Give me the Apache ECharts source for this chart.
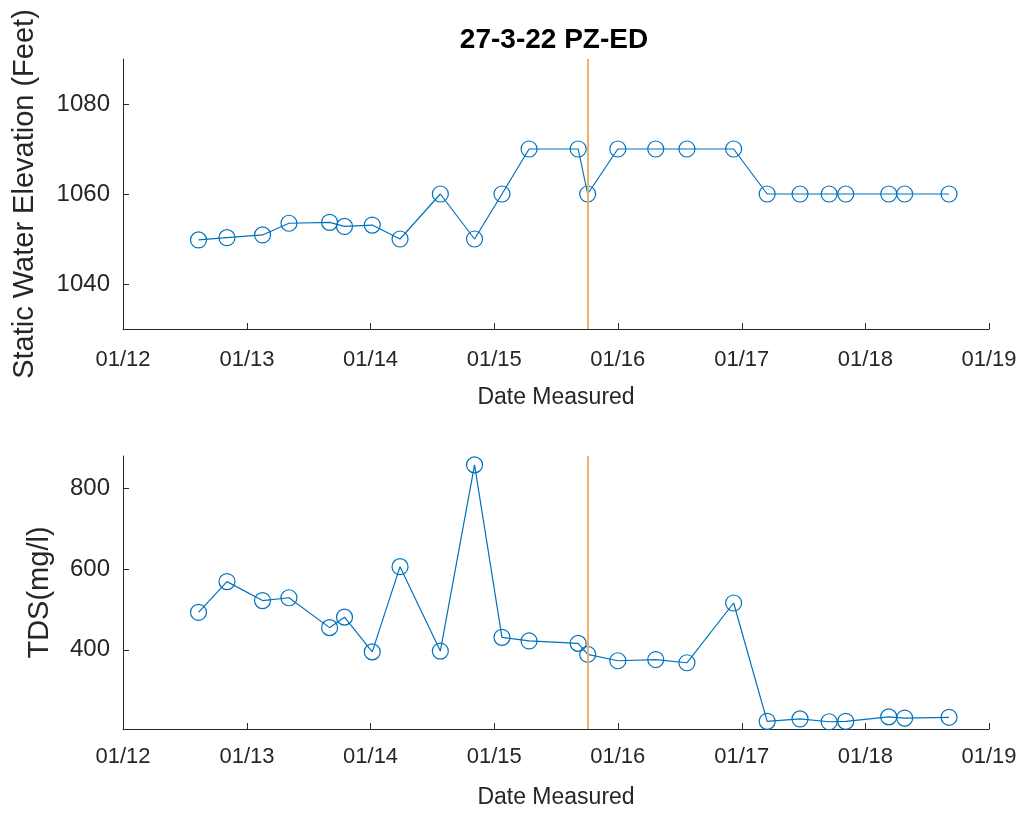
<!DOCTYPE html>
<html>
<head>
<meta charset="utf-8">
<script src="https://cdn.jsdelivr.net/npm/echarts@6/dist/echarts.min.js"></script>
<style>
  html, body { margin: 0; padding: 0; background: #fff; }
  #chart { width: 1027px; height: 813px; }
</style>
</head>
<body>
<div id="chart"></div>
<script>
// measurement dates (shared by both panels)
const dates = [
  '2012-08-11', '2012-11-03', '2013-02-16', '2013-05-05', '2013-09-02',
  '2013-10-16', '2014-01-06', '2014-03-29', '2014-07-26', '2014-11-04',
  '2015-01-24', '2015-04-14', '2015-09-06', '2015-10-04', '2016-01-01',
  '2016-04-22', '2016-07-23', '2016-12-08', '2017-03-17', '2017-06-22',
  '2017-09-16', '2017-11-04', '2018-03-11', '2018-04-27', '2018-09-05'
]
const elevation = [
  1049.8, 1050.3, 1050.9, 1053.5, 1053.7, 1052.8, 1053.1, 1050, 1060, 1050,
  1060, 1070, 1070, 1060, 1070, 1070, 1070, 1070, 1060, 1060,
  1060, 1060, 1060, 1060, 1060
]
const tds = [
  493, 569, 522, 529, 455, 481, 395, 606, 397, 858,
  431, 422, 416, 389, 373, 376, 368, 516, 223, 229,
  222, 223, 234, 231, 233
]
const markerDate = '2015-10-05'
const xTicks = ['2012-01-01', '2013-01-01', '2014-01-01', '2015-01-01',
  '2016-01-01', '2017-01-01', '2018-01-01', '2019-01-01']
const elevTicks = [1040, 1060, 1080]
const tdsTicks = [400, 600, 800]

const ts = s => new Date(s + 'T00:00:00Z').getTime()
const xTickVals = xTicks.map(ts)
const axisColor = '#262626'
const textColor = '#262626'
const font = 'Liberation Sans, Arial, sans-serif'

function xAxisFor (gridIndex, labelMargin) {
  return {
    type: 'value',
    gridIndex: gridIndex,
    min: xTickVals[0],
    max: xTickVals[xTickVals.length - 1],
    name: 'Date Measured',
    nameLocation: 'middle',
    nameGap: 57,
    nameTextStyle: { fontSize: 23, color: textColor, fontFamily: font },
    axisLine: { lineStyle: { color: axisColor, width: 1 } },
    axisTick: { inside: true, length: 6, customValues: xTickVals, lineStyle: { color: axisColor } },
    axisLabel: {
      customValues: xTickVals,
      margin: labelMargin,
      fontSize: 22,
      color: textColor,
      fontFamily: font,
      hideOverlap: false,
      showMinLabel: true,
      showMaxLabel: true,
      formatter: v => {
        const d = new Date(v)
        return '01/' + String(d.getUTCFullYear()).slice(2)
      }
    },
    splitLine: { show: false }
  }
}

function yAxisFor (gridIndex, name, min, max, ticks, gap) {
  return {
    type: 'value',
    gridIndex: gridIndex,
    min: min,
    max: max,
    name: name,
    nameLocation: 'middle',
    nameGap: gap,
    nameTextStyle: { fontSize: 29, color: textColor, fontFamily: font },
    axisLine: { show: true, lineStyle: { color: axisColor, width: 1 } },
    axisTick: { show: true, inside: true, length: 6, customValues: ticks, lineStyle: { color: axisColor } },
    axisLabel: {
      customValues: ticks,
      margin: 13,
      fontSize: 24,
      color: textColor,
      fontFamily: font,
      formatter: v => String(v)
    },
    splitLine: { show: false }
  }
}

function lineSeries (idx, values) {
  return {
    type: 'line',
    xAxisIndex: idx,
    yAxisIndex: idx,
    data: dates.map((d, i) => [ts(d), values[i]]),
    symbol: 'circle',
    symbolSize: 16,
    showAllSymbol: true,
    color: '#0072BD',
    lineStyle: { color: '#0072BD', width: 1.2 },
    itemStyle: { color: 'rgba(0,0,0,0)', borderColor: '#0072BD', borderWidth: 1.2 },
    emphasis: { disabled: true },
    markLine: {
      silent: true,
      symbol: 'none',
      label: { show: false },
      lineStyle: { color: '#EDB165', width: 2, type: 'solid' },
      data: [{ xAxis: ts(markerDate) }]
    },
    z: 3
  }
}

const chart = echarts.init(document.getElementById('chart'), null, { renderer: 'canvas' })
chart.setOption({
  backgroundColor: '#fff',
  animation: false,
  title: {
    text: '27-3-22 PZ-ED',
    left: 549,
    top: 21,
    textAlign: 'center',
    textStyle: { fontSize: 28, fontWeight: 'bold', color: '#000', fontFamily: font }
  },
  grid: [
    { left: 123, right: 38, top: 59, height: 270 },
    { left: 123, right: 38, top: 456, height: 273 }
  ],
  xAxis: [xAxisFor(0, 20), xAxisFor(1, 17)],
  yAxis: [
    yAxisFor(0, 'Static Water Elevation (Feet)', 1030, 1090, elevTicks, 84),
    yAxisFor(1, 'TDS(mg/l)', 204, 880, tdsTicks, 69)
  ],
  series: [lineSeries(0, elevation), lineSeries(1, tds)]
})
</script>
</body>
</html>
